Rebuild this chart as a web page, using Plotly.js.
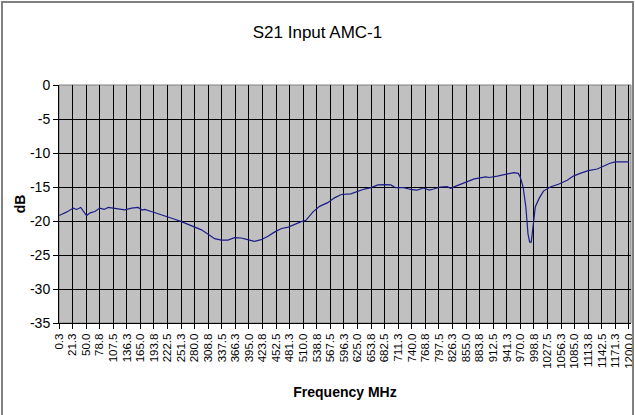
<!DOCTYPE html>
<html>
<head>
<meta charset="utf-8">
<script src="https://cdn.plot.ly/plotly-3.0.1.min.js"></script>
<style>
  html, body { margin: 0; padding: 0; background: #ffffff; }
  #chart { width: 635px; height: 415px; }
</style>
</head>
<body>
<div id="chart"></div>
<script>
// Category labels on the frequency axis (MHz)
const freqLabels = ["0.3","21.3","50.0","78.8","107.5","136.3","165.0","193.8","222.5","251.3",
  "280.0","308.8","337.5","366.3","395.0","423.8","452.5","481.3","510.0","538.8",
  "567.5","596.3","625.0","653.8","682.5","711.3","740.0","768.8","797.5","826.3",
  "855.0","883.8","912.5","941.3","970.0","998.8","1027.5","1056.3","1085.0","1113.8",
  "1142.5","1171.3","1200.0"];

// Position of each sample, in label steps along the category axis
const samplePos = [0,0.55,1.05,1.3,1.6,1.8,2.03,2.3,2.65,3.0,3.33,3.63,4.0,4.35,4.85,5.35,5.83,6.13,6.32,6.8,
  7.3,8.04,8.53,9.02,9.5,10.0,10.5,11.1,11.47,11.96,12.45,12.94,13.43,13.9,14.4,14.9,15.4,15.9,16.4,16.9,
  17.35,17.85,18.2,18.7,19.2,19.8,20.3,20.8,21.5,22.0,22.5,23.0,23.5,24.0,24.45,24.8,25.4,26.0,26.4,26.85,
  27.3,27.6,28.1,28.6,28.85,29.2,29.7,30.1,30.6,31.45,31.7,32.3,33.0,33.5,33.85,34.0,34.2,34.4,34.56,34.68,
  34.8,34.93,35.1,35.4,35.7,36.2,36.8,37.45,37.9,38.4,39.0,39.66,40.15,40.6,41.0,42.0];

// S21 (dB)
const s21dB = [-19.2,-18.7,-18.1,-18.3,-18.0,-18.5,-19.2,-18.8,-18.6,-18.1,-18.3,-18.0,-18.1,-18.3,-18.35,-18.1,-18.0,-18.4,-18.3,-18.6,
  -18.9,-19.4,-19.75,-20.1,-20.5,-20.8,-21.3,-22.1,-22.6,-22.8,-22.8,-22.45,-22.5,-22.75,-23.0,-22.75,-22.25,-21.6,-21.1,-20.9,
  -20.5,-20.1,-19.9,-18.7,-17.85,-17.3,-16.6,-16.1,-16.0,-15.6,-15.3,-15.1,-14.7,-14.65,-14.7,-15.1,-15.1,-15.4,-15.45,-15.15,
  -15.45,-15.3,-15.0,-14.95,-15.2,-14.9,-14.5,-14.1,-13.8,-13.5,-13.6,-13.4,-13.1,-12.9,-13.0,-13.6,-15.0,-17.9,-21.9,-23.1,
  -23.1,-20.9,-17.9,-16.6,-15.6,-15.0,-14.6,-14.0,-13.4,-13.0,-12.6,-12.35,-11.9,-11.5,-11.3,-11.3];

const yTicks = [0,-5,-10,-15,-20,-25,-30,-35];

const W = 635, H = 415;
const M = {l: 59, r: 4, t: 85, b: 92};
const pw = W - M.l - M.r, ph = H - M.t - M.b;
const sans = '"Liberation Sans", Arial, sans-serif';

const trace = {
  x: samplePos,
  y: s21dB,
  type: 'scatter',
  mode: 'lines',
  line: {color: '#1c1c8a', width: 1.2},
  hoverinfo: 'skip'
};

const layout = {
  width: W, height: H,
  margin: M,
  paper_bgcolor: '#ffffff',
  plot_bgcolor: '#c0c0c0',
  showlegend: false,
  title: {
    text: 'S21 Input AMC-1',
    font: {family: sans, size: 17, color: '#000000'},
    x: 0.5, xref: 'container', xanchor: 'center',
    y: 1 - 32 / H, yref: 'container', yanchor: 'middle'
  },
  xaxis: {
    range: [0, 42.15],
    tickmode: 'array',
    tickvals: freqLabels.map((_, i) => i),
    ticktext: freqLabels,
    tickangle: -90,
    tickfont: {family: sans, size: 11.5, color: '#000000'},
    ticks: 'outside', ticklen: 5, tickcolor: '#000000', tickwidth: 1,
    showline: true, linecolor: '#000000', linewidth: 1,
    showgrid: true, gridcolor: '#000000', gridwidth: 1,
    zeroline: false,
    fixedrange: true,
    title: {text: '<b>Frequency MHz</b>', font: {family: sans, size: 14, color: '#000000'}, standoff: 19}
  },
  yaxis: {
    range: [-35, 0],
    tickmode: 'array',
    tickvals: yTicks,
    ticktext: yTicks.map(String),
    tickfont: {family: sans, size: 14, color: '#000000'},
    ticks: 'outside', ticklen: 5, tickcolor: '#000000', tickwidth: 1,
    showline: true, linecolor: '#000000', linewidth: 1,
    showgrid: true, gridcolor: '#000000', gridwidth: 1,
    zeroline: false,
    fixedrange: true,
    title: {text: '<b>dB</b>', font: {family: sans, size: 14, color: '#000000'}, standoff: 1}
  },
  shapes: [
    // outer chart frame (gray), extends past the bottom of the picture
    {type: 'rect', xref: 'paper', yref: 'paper', layer: 'above',
     x0: (2 - M.l) / pw, x1: (633 - M.l) / pw,
     y0: -(H + 10 - M.t - ph) / ph - 0.2, y1: 1 + (M.t - 2) / ph,
     line: {color: '#808080', width: 2}, fillcolor: 'rgba(0,0,0,0)'},
    // plot area border
    {type: 'rect', xref: 'paper', yref: 'paper', layer: 'below',
     x0: 0, x1: 1, y0: 0, y1: 1,
     line: {color: '#808080', width: 1}, fillcolor: 'rgba(0,0,0,0)'}
  ]
};

Plotly.newPlot('chart', [trace], layout, {displayModeBar: false, staticPlot: true});
</script>
</body>
</html>
